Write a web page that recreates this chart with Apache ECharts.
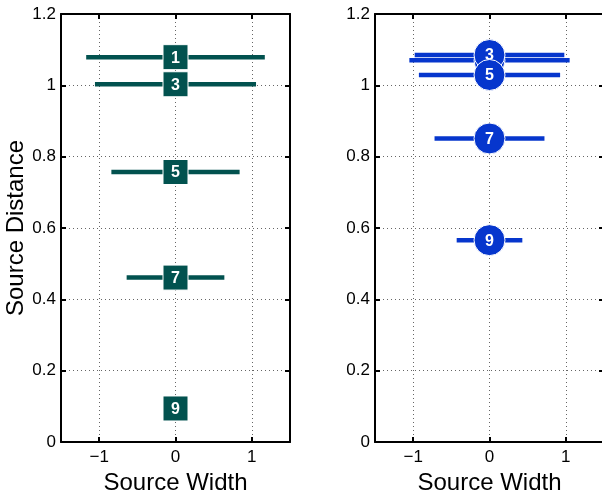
<!DOCTYPE html>
<html>
<head>
<meta charset="utf-8">
<script src="https://cdn.jsdelivr.net/npm/echarts@6/dist/echarts.min.js"></script>
<style>
  html, body { margin: 0; padding: 0; background: #fff; }
  #chart { width: 602px; height: 492px; }
</style>
</head>
<body>
<div id="chart"></div>
<script>
// values
var leftLabels = ['1', '3', '5', '7', '9'];
var leftY = [1.079, 1.003, 0.757, 0.461, 0.094];
var leftHalfWidth = [1.17, 1.055, 0.84, 0.64, 0.0];

var rightLabels = ['1', '3', '5', '7', '9'];
var rightY = [1.07, 1.085, 1.029, 0.851, 0.566];
var rightHalfWidth = [1.05, 0.98, 0.925, 0.72, 0.43];

var xTicks = [-1, 0, 1];

var teal = '#02524f';
var blue = '#0636cd';
var font = '"Liberation Sans", Arial, sans-serif';

var chart = echarts.init(document.getElementById('chart'));

function fmtX(v) {
    return String(v).replace('-', '\u2212');
}

function bottomX(grid, name) {
    return {
	gridIndex: grid, type: 'value', min: -1.5, max: 1.5, interval: 1,
	position: 'bottom',
	name: name, nameLocation: 'middle', nameGap: 23,
	nameTextStyle: {fontSize: 24, color: '#000', fontFamily: font},
	axisLine: {show: true, onZero: false, lineStyle: {color: '#000', width: 2}},
	axisTick: {show: true, inside: true, length: 5, lineStyle: {color: '#000', width: 2},
		   customValues: xTicks},
	axisLabel: {fontSize: 17, color: '#000', fontFamily: font, margin: 7,
		    customValues: xTicks, formatter: fmtX},
	splitLine: {show: true, lineStyle: {color: '#666', type: [1, 3], width: 1}}
    };
}

function topX(grid) {
    return {
	gridIndex: grid, type: 'value', min: -1.5, max: 1.5, interval: 1,
	position: 'top',
	axisLine: {show: true, onZero: false, lineStyle: {color: '#000', width: 2}},
	axisTick: {show: true, inside: true, length: 5, lineStyle: {color: '#000', width: 2},
		   customValues: xTicks},
	axisLabel: {show: false},
	splitLine: {show: false}
    };
}

function leftYAxis(grid, name) {
    return {
	gridIndex: grid, type: 'value', min: 0, max: 1.2, interval: 0.2,
	position: 'left',
	name: name, nameLocation: 'middle', nameGap: 29,
	nameTextStyle: {fontSize: 24, color: '#000', fontFamily: font},
	axisLine: {show: true, onZero: false, lineStyle: {color: '#000', width: 2}},
	axisTick: {show: true, inside: true, length: 5, lineStyle: {color: '#000', width: 2}},
	axisLabel: {fontSize: 17, color: '#000', fontFamily: font, margin: 5,
		    formatter: function (v) { return String(Math.round(v * 10) / 10); }},
	splitLine: {show: true, lineStyle: {color: '#666', type: [1, 3], width: 1}}
    };
}

function rightYAxis(grid) {
    return {
	gridIndex: grid, type: 'value', min: 0, max: 1.2, interval: 0.2,
	position: 'right',
	axisLine: {show: true, onZero: false, lineStyle: {color: '#000', width: 2}},
	axisTick: {show: true, inside: true, length: 5, lineStyle: {color: '#000', width: 2}},
	axisLabel: {show: false},
	splitLine: {show: false}
    };
}

var series = [];

function addPanel(labels, ys, halfs, xi, yi, color, symbol, size) {
    labels.forEach(function (lab, i) {
	if (halfs[i] > 0) {
	    series.push({
		type: 'line', xAxisIndex: xi, yAxisIndex: yi,
		data: [[-halfs[i], ys[i]], [halfs[i], ys[i]]],
		symbol: 'none', silent: true, z: 2,
		lineStyle: {color: color, width: 4.5, cap: 'butt'}
	    });
	}
    });
    // one series per marker so later markers cover earlier labels
    labels.forEach(function (lab, i) {
	series.push({
	    type: 'scatter', xAxisIndex: xi, yAxisIndex: yi, z: 3 + i,
	    symbol: symbol, symbolSize: size,
	    itemStyle: {color: color, borderColor: '#fff', borderWidth: 1, opacity: 1},
	    label: {show: true, position: 'inside', color: '#fff', fontWeight: 'bold',
		    fontSize: 16, fontFamily: font, offset: [0, 1],
		    formatter: function (p) { return p.data[2]; }},
	    data: [[0, ys[i], lab]]
	});
    });
}

addPanel(leftLabels, leftY, leftHalfWidth, 0, 0, teal, 'rect', 25);
addPanel(rightLabels, rightY, rightHalfWidth, 1, 1, blue, 'circle', 31);

chart.setOption({
    animation: false,
    backgroundColor: '#fff',
    grid: [
	{left: 61, top: 14, width: 229, height: 428, outerBoundsMode: 'none', containLabel: false},
	{left: 375, top: 14, width: 229, height: 428, outerBoundsMode: 'none', containLabel: false}
    ],
    xAxis: [bottomX(0, 'Source Width'), bottomX(1, 'Source Width'), topX(0), topX(1)],
    yAxis: [leftYAxis(0, 'Source Distance'), leftYAxis(1, ''), rightYAxis(0), rightYAxis(1)],
    series: series
});
</script>
</body>
</html>
